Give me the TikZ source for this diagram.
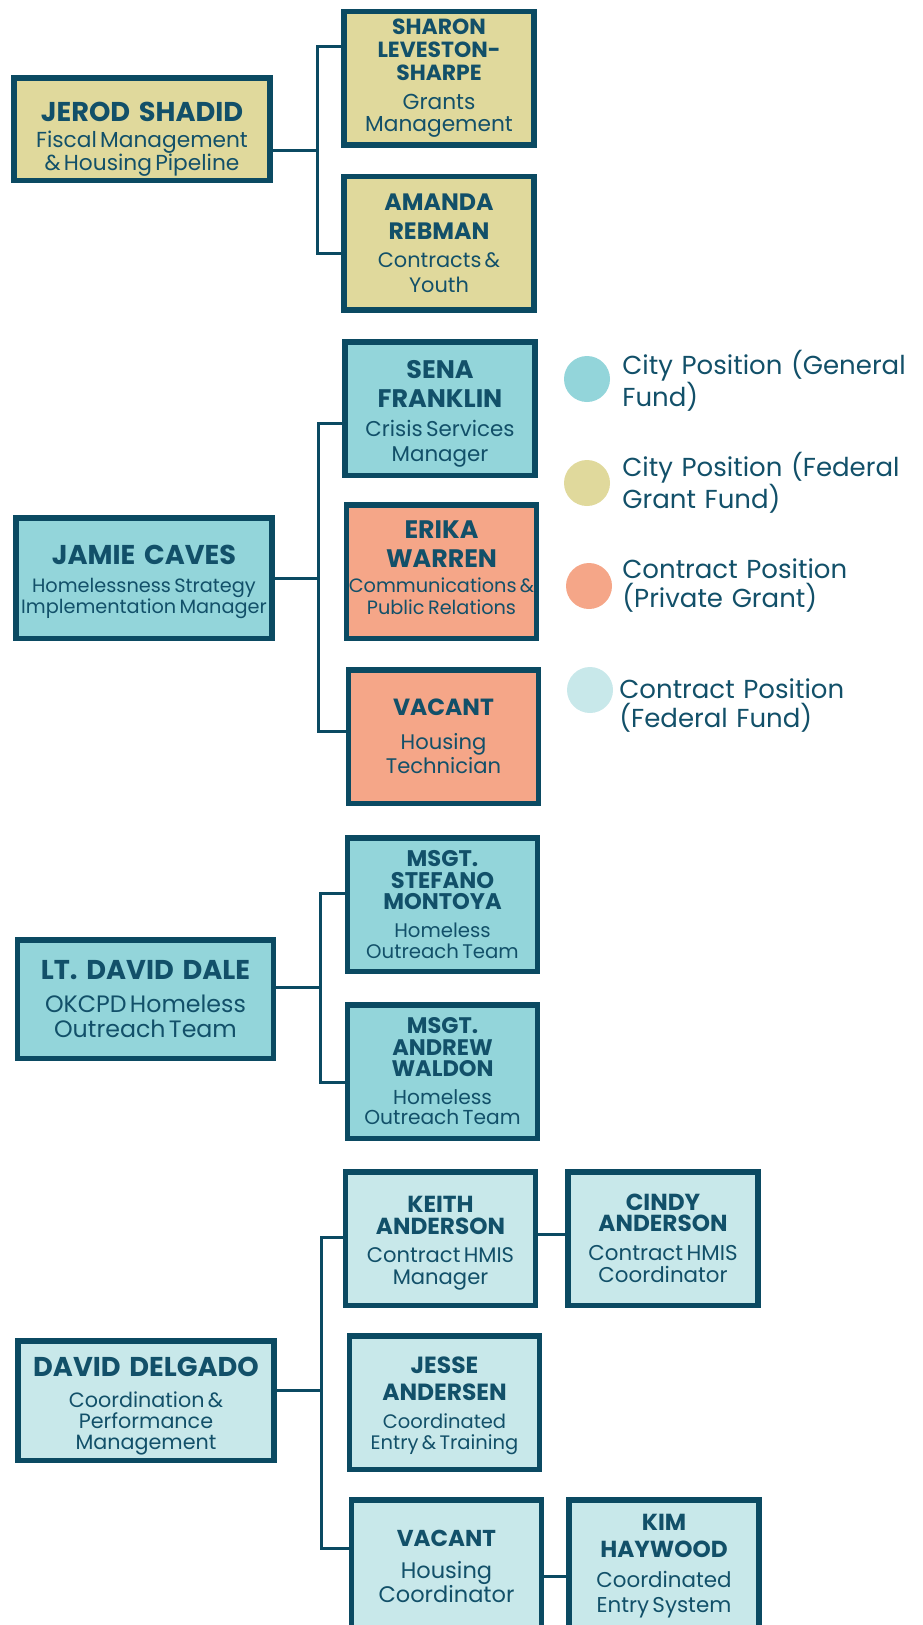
\documentclass[tikz,border=0pt]{standalone}
\usepackage{fontspec}
\setmainfont{Poppins}
\usepackage{xcolor}
\usepackage{tikz}
\usetikzlibrary{positioning}

\definecolor{navy}{HTML}{0B4A62}
\definecolor{inktext}{HTML}{125069}
\definecolor{fedfill}{HTML}{E0D99C}
\definecolor{cityfill}{HTML}{93D5DA}
\definecolor{privfill}{HTML}{F5A688}
\definecolor{contrfill}{HTML}{C8E8EA}

% [drop], name size, name skip, role size, role skip, name-to-role skip, name, role
\newcommand{\card}[8][0]{\raisebox{-#1pt}[\height][\depth]{\vbox{{\fontsize{#2}{#3}\selectfont\bfseries\spaceskip=0.32em #7\par}\vspace{\dimexpr#6pt-#5pt\relax}{\fontsize{#4}{#5}\selectfont #8\par}}}}

\tikzset{
    box/.style={draw=navy, line width=5.5pt, text=inktext, align=center, inner sep=2pt},
    head/.style={box, minimum width=256pt, text width=252pt},
    staff/.style={box, minimum width=190pt, minimum height=133.5pt, text width=186pt},
    link/.style={draw=navy, line width=3pt},
    swatch/.style={circle, minimum size=46pt, inner sep=0pt},
    keytext/.style={text=inktext, font=\fontsize{26}{29}\selectfont, align=left, text width=310pt, inner sep=0pt}
}

\begin{document}
\begin{tikzpicture}[x=1pt, y=1pt]
    \clip (0,0) rectangle (923,-1625);
    \useasboundingbox (0,0) rectangle (923,-1625);

    \node[head, fill=fedfill, minimum height=102.5pt] (jerod) at (142,-129) {\card[10]{27.2}{27}{21.7}{20.7}{26}{JEROD SHADID}{Fiscal Management\\\& Housing Pipeline}};
    \node[staff, fill=fedfill] (sharon) at (439,-78) {\card{21.9}{22.7}{21.7}{22}{29}{SHARON\\LEVESTON-\\SHARPE}{Grants\\Management}};
    \node[staff, fill=fedfill, below=26pt of sharon] (amanda) {\card{23.7}{29}{20.9}{25}{28}{AMANDA\\REBMAN}{Contracts \&\\Youth}};

    \coordinate (bus1) at (317,-150);
    \draw[link] ([yshift=-21pt]jerod.east) -- (bus1);
    \draw[link] ([yshift=32pt]sharon.west) -| (bus1) |- ([yshift=-10pt]amanda.west);

    \node[head, fill=cityfill, minimum height=120.5pt] (jamie) at (144,-578) {\card[4]{27.2}{27}{19.3}{21.8}{28}{JAMIE CAVES}{Homelessness Strategy\\Implementation Manager}};
    \node[staff, fill=cityfill] (sena) at (440,-408.5) {\card[5]{25.4}{29}{21.4}{25}{29}{SENA\\FRANKLIN}{Crisis Services\\Manager}};
    \node[staff, fill=privfill, below=24pt of sena, xshift=1.5pt] (erika) {\card[-4]{25.3}{29}{19.3}{22}{25}{ERIKA\\WARREN}{Communications \&\\Public Relations}};
    \node[staff, fill=privfill, below=26pt of erika, xshift=2pt] (techvac) {\card{23.4}{27}{21.1}{24}{34}{VACANT}{Housing\\Technician}};

    \coordinate (bus2) at (318,-578);
    \draw[link] (jamie.east) -- (bus2);
    \draw[link] ([yshift=-14.5pt]sena.west) -| (bus2) |- ([yshift=5.5pt]techvac.west);

    \node[head, fill=cityfill, minimum height=118.5pt] (dale) at (145.5,-999) {\card{27.2}{27}{23.7}{25}{33}{LT. DAVID DALE}{OKCPD Homeless\\Outreach Team}};
    \node[staff, fill=cityfill] (montoya) at (442.5,-904.5) {\card{22.6}{21.7}{19.7}{20.7}{28}{MSGT.\\STEFANO\\MONTOYA}{Homeless\\Outreach Team}};
    \node[staff, fill=cityfill, below=28pt of montoya] (waldon) {\card{22.5}{21.2}{20.2}{20.7}{28}{MSGT.\\ANDREW\\WALDON}{Homeless\\Outreach Team}};

    \coordinate (bus3) at (320,-987);
    \draw[link] ([yshift=12pt]dale.east) -- (bus3);
    \draw[link] ([yshift=11.5pt]montoya.west) -| (bus3) |- ([yshift=-11pt]waldon.west);

    \node[head, fill=contrfill, minimum height=119.5pt] (delgado) at (146,-1400.5) {\card[6]{27.2}{27}{20.7}{21}{31}{DAVID DELGADO}{Coordination \&\\Performance\\Management}};
    \node[staff, fill=contrfill] (keith) at (440.5,-1238.5) {\card[4.5]{23.2}{21.8}{21.1}{21.8}{28}{KEITH\\ANDERSON}{Contract HMIS\\Manager}};
    \node[staff, fill=contrfill, right=27pt of keith] (cindy) {\card{23.2}{20.7}{21.4}{21.8}{29}{CINDY\\ANDERSON}{Contract HMIS\\Coordinator}};
    \node[staff, fill=contrfill, below=25pt of keith, xshift=4pt] (jesse) {\card[3.5]{23.4}{27}{19.5}{20.7}{28}{JESSE\\ANDERSEN}{Coordinated\\Entry \& Training}};
    \node[staff, fill=contrfill, below=25pt of jesse, xshift=2pt] (coordvac) {\card{23}{27}{22.5}{21.8}{32}{VACANT}{Housing\\Coordinator}};
    \node[staff, fill=contrfill, right=22pt of coordvac] (kim) {\card{23.2}{27}{21.4}{25}{30}{KIM\\HAYWOOD}{Coordinated\\Entry System}};

    \coordinate (bus4) at (321,-1390);
    \draw[link] ([yshift=10.5pt]delgado.east) -- (bus4);
    \draw[link] ([yshift=1.5pt]keith.west) -| (bus4) |- ([yshift=18.5pt]coordvac.west);
    \draw[link] ([yshift=4.5pt]keith.east) -- ([yshift=4.5pt]keith.east -| cindy.west);
    \draw[link] ([yshift=-9.5pt]coordvac.east) -- ([yshift=-9.5pt]coordvac.east -| kim.west);

    \node[swatch, fill=cityfill] (keycity) at (587,-379) {};
    \node[keytext, right=12pt of keycity, yshift=-2pt] (keycitytext) {City Position (General\\Fund)};
    \node[swatch, fill=fedfill] (keyfed) at (587,-483) {};
    \node[keytext, right=12pt of keyfed] (keyfedtext) {City Position (Federal\\Grant Fund)};
    \node[swatch, fill=privfill] (keypriv) at (589,-586) {};
    \node[keytext, right=10pt of keypriv] (keyprivtext) {Contract Position\\(Private Grant)};
    \node[swatch, fill=contrfill] (keycontr) at (590,-690) {};
    \node[keytext, right=6pt of keycontr, yshift=-16pt] (keycontrtext) {Contract Position\\(Federal Fund)};
\end{tikzpicture}
\end{document}
